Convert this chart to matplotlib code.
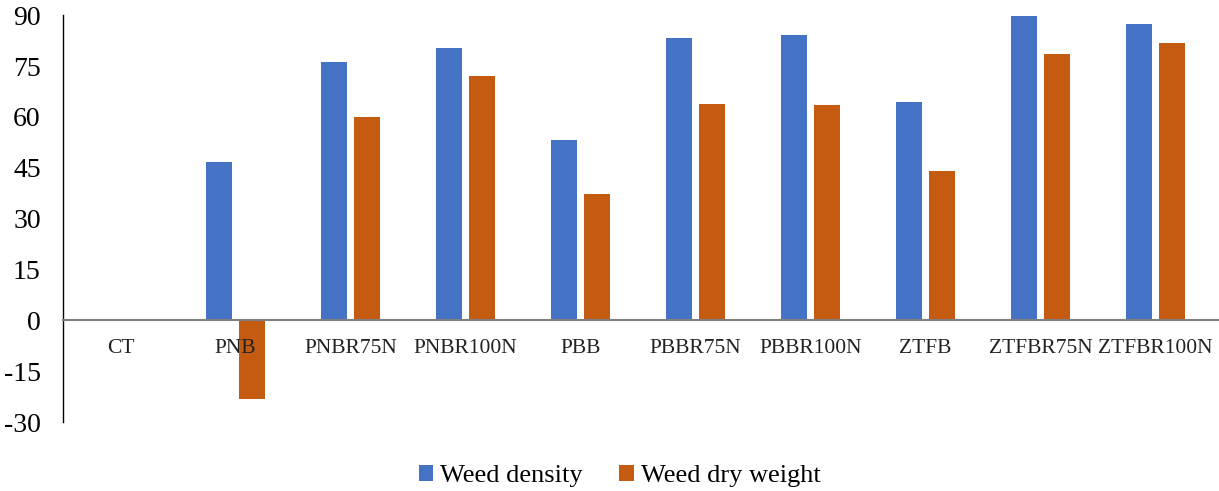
import matplotlib
matplotlib.use("Agg")
import matplotlib.pyplot as plt
import numpy as np

categories = ["CT", "PNB", "PNBR75N", "PNBR100N", "PBB", "PBBR75N",
              "PBBR100N", "ZTFB", "ZTFBR75N", "ZTFBR100N"]
weed_density = [0, 46.8, 76.2, 80.3, 53.2, 83.3, 84.2, 64.3, 89.8, 87.4]
weed_dry_weight = [0, -23.2, 59.9, 72.1, 37.3, 63.8, 63.6, 44.0, 78.6, 81.8]
y_ticks = [-30, -15, 0, 15, 30, 45, 60, 75, 90]

plt.rcParams['font.family'] = ['Liberation Serif', 'DejaVu Serif']

W, H = 1219, 491
fig = plt.figure(figsize=(W / 100, H / 100), dpi=100)
ax = fig.add_axes([63 / W, 1 - 422 / H, (1213 - 63) / W, (422 - 15.3) / H])

x = np.arange(len(categories))
bw = 0.226
gap = 0.06
off = (bw + gap) / 2
blue = "#4472C4"
orange = "#C55A11"
ax.bar(x - off, weed_density, bw, color=blue, label="Weed density")
ax.bar(x + off, weed_dry_weight, bw, color=orange, label="Weed dry weight")

ax.set_xlim(-0.5, len(categories) - 0.5)
ax.set_ylim(-30, 90)
ax.set_yticks(y_ticks)
ax.set_yticklabels([str(t) for t in y_ticks], fontsize=20)
ax.tick_params(axis='y', length=0, pad=16)
ax.set_xticks([])

for s in ["top", "right", "bottom"]:
    ax.spines[s].set_visible(False)
ax.spines["left"].set_color("black")
ax.spines["left"].set_linewidth(1.0)
ax.axhline(0, color="#808080", lw=1.5, zorder=3, clip_on=False, xmax=1.005)

for i, c in enumerate(categories):
    ax.annotate(c, xy=(i, 0), xytext=(0, -20), textcoords="offset points",
                ha="center", va="center", fontsize=15.5, color="#222222")

fig.legend(loc="center", ncol=2, frameon=False, fontsize=19,
           bbox_to_anchor=(619.5 / W, 1 - 476 / H), handlelength=0.55, handleheight=0.55,
           handletextpad=0.25, columnspacing=1.4, borderpad=0)

fig.savefig("out.png", dpi=100)
